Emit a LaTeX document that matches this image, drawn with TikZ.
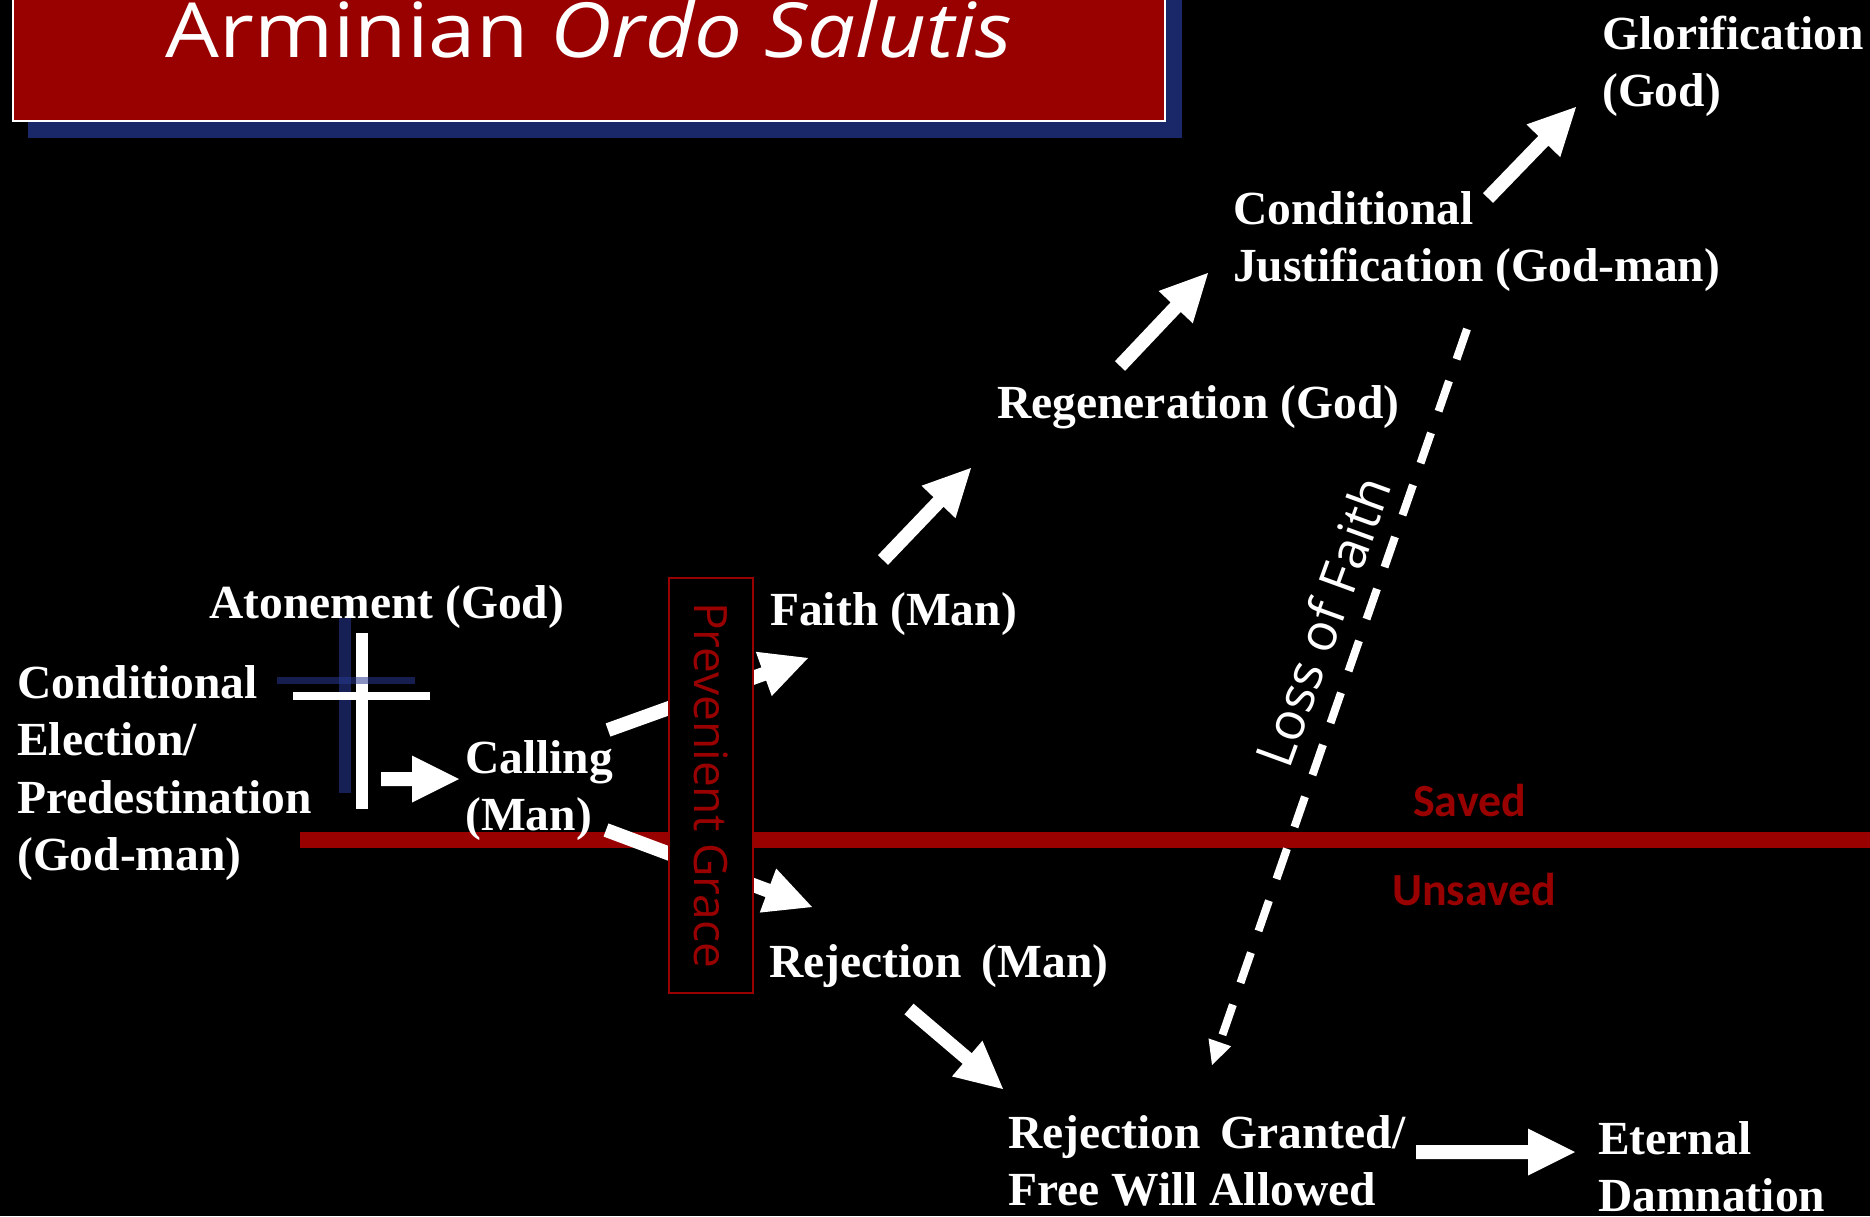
\documentclass[tikz,border=0pt]{standalone}
\usepackage{fontspec}
\setmainfont{Liberation Serif}
\newfontfamily\osans{Open Sans}
\newfontfamily\osanswide[FakeStretch=1.12]{Open Sans}
\newfontfamily\carl{Carlito}
\usetikzlibrary{calc}
\definecolor{dred}{RGB}{153,0,0}
\definecolor{navy}{RGB}{26,40,106}
\definecolor{crossblue}{RGB}{22,32,85}
\definecolor{crossblueb}{RGB}{40,56,145}
\newcommand\ml[1]{\begin{tabular}[t]{@{}l@{}}#1\end{tabular}}
\newcommand\blockarrow[2]{%
  \coordinate (#1-#2-c) at ($(#2)!47pt!(#1)$);
  \fill[white] ($(#1)!7pt!90:(#2)$) -- ($(#1-#2-c)!7pt!90:(#2)$) -- ($(#1-#2-c)!23.5pt!90:(#2)$) -- (#2) -- ($(#1-#2-c)!23.5pt!-90:(#2)$) -- ($(#1-#2-c)!7pt!-90:(#2)$) -- ($(#1)!7pt!-90:(#2)$) -- cycle;}
\tikzset{
  lbl/.style={text=white, font=\bfseries\fontsize{47.5}{57.5}\selectfont, inner sep=0pt, anchor=base west},
  sidelbl/.style={text=dred, font=\carl\bfseries\fontsize{46}{52}\selectfont, inner sep=0pt, anchor=base west},
  titlelbl/.style={text=white, font=\osanswide\fontsize{76}{80}\selectfont, inner sep=0pt, anchor=base}
}
\begin{document}
\begin{tikzpicture}[x=1pt,y=-1pt]
\fill[black] (0,0) rectangle (1870,1216);
\useasboundingbox (0,0) rectangle (1870,1216);
% title
\fill[navy] (28,-5) rectangle (1182,138);
\filldraw[fill=dred, draw=white, line width=2pt] (13,-5) rectangle (1165,121);
\node[titlelbl] (title) at (589,57) {Arminian \textit{Ordo Salutis}};
% saved / unsaved divider
\fill[dred] (300,832) rectangle (1870,848);
\node[sidelbl] (saved) at (1413,816) {Saved};
\node[sidelbl] (unsaved) at (1392,905) {Unsaved};
% cross
\fill[crossblue] (339,618) rectangle (351,793);
\fill[white] (356,633) rectangle (368,809);
\fill[white] (293,692) rectangle (430,700);
\fill[crossblueb, fill opacity=0.55] (277,677) rectangle (415,684);
% arrow end points
\coordinate (a1) at (381,779);  \coordinate (a2) at (459,779);
\coordinate (b1) at (608,730);  \coordinate (b2) at (808,658);
\coordinate (c1) at (606,830);  \coordinate (c2) at (812,907);
\coordinate (d1) at (883,560);  \coordinate (d2) at (971,468);
\coordinate (e1) at (1120,366); \coordinate (e2) at (1208,273);
\coordinate (f1) at (1488,198); \coordinate (f2) at (1576,107);
\coordinate (g1) at (909,1009); \coordinate (g2) at (1003,1089);
\coordinate (h1) at (1416,1152);\coordinate (h2) at (1575,1152);
\blockarrow{a1}{a2}
\blockarrow{b1}{b2}
\blockarrow{c1}{c2}
\blockarrow{d1}{d2}
\blockarrow{e1}{e2}
\blockarrow{f1}{f2}
\blockarrow{g1}{g2}
\blockarrow{h1}{h2}
% loss of faith
\coordinate (lofA) at (1467,329);
\coordinate (lofB) at (1212,1065);
\coordinate (lofC) at ($(lofB)!24pt!(lofA)$);
\draw[white, line width=8pt, dash pattern=on 32pt off 23pt] (lofA) -- (lofC);
\fill[white] ($(lofC)!12pt!90:(lofB)$) -- (lofB) -- ($(lofC)!12pt!-90:(lofB)$) -- cycle;
\node[text=white, font=\osans\fontsize{52}{56}\selectfont, inner sep=0pt, anchor=base, rotate=70] (loss) at (1341,628) {Loss of Faith};
% prevenient grace
\draw[dred, fill=black, line width=2pt] (669,578) rectangle (753,993);
\node[text=dred, font=\osans\fontsize{46}{50}\selectfont, inner sep=0pt, rotate=-90] (grace) at (711,785) {Prevenient Grace};
% labels
\node[lbl] (elect) at (17,698) {\ml{Conditional\\Election/\\Predestination\\(God-man)}};
\node[lbl] (aton) at (209,618) {Atonement (God)};
\node[lbl] (call) at (465,773) {\ml{Calling\\(Man)}};
\node[lbl] (faith) at (770,625) {Faith (Man)};
\node[lbl] (rej) at (769,977) {Rejection\hspace{8pt} (Man)};
\node[lbl] (regen) at (997,418) {Regeneration (God)};
\node[lbl] (just) at (1233,224) {\ml{Conditional\\Justification (God-man)}};
\node[lbl] (glor) at (1602,49) {\ml{Glorification\\(God)}};
\node[lbl] (grant) at (1008,1148) {\ml{Rejection\hspace{8pt} Granted/\\Free Will Allowed}};
\node[lbl] (etern) at (1598,1154) {\ml{Eternal\\Damnation}};
\end{tikzpicture}
\end{document}
